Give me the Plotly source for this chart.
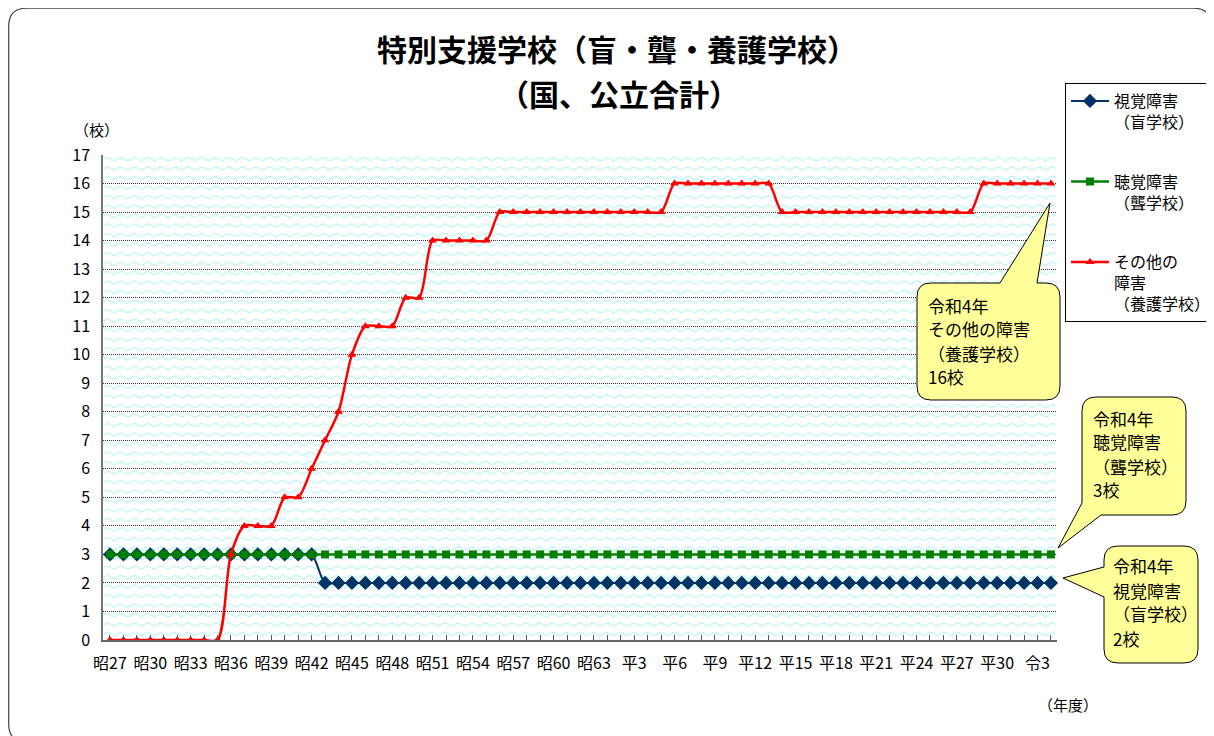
import plotly.graph_objects as go

# ---------------- data ----------------
years = list(range(1952, 2023))  # 昭27 (1952) ... 令4 (2022)

tick_years = [1952, 1955, 1958, 1961, 1964, 1967, 1970, 1973, 1976, 1979, 1982, 1985,
              1988, 1991, 1994, 1997, 2000, 2003, 2006, 2009, 2012, 2015, 2018, 2021]
tick_labels = ["昭27", "昭30", "昭33", "昭36", "昭39", "昭42", "昭45", "昭48", "昭51", "昭54",
               "昭57", "昭60", "昭63", "平3", "平6", "平9", "平12", "平15", "平18", "平21",
               "平24", "平27", "平30", "令3"]

# 視覚障害（盲学校）
visual = [3, 3, 3, 3, 3, 3, 3, 3, 3, 3, 3, 3, 3, 3, 3, 3,
          2, 2, 2, 2, 2, 2, 2, 2, 2, 2, 2, 2, 2, 2, 2, 2, 2, 2, 2, 2, 2, 2, 2, 2,
          2, 2, 2, 2, 2, 2, 2, 2, 2, 2, 2, 2, 2, 2, 2, 2, 2, 2, 2, 2, 2, 2, 2, 2,
          2, 2, 2, 2, 2, 2, 2]
# 聴覚障害（聾学校）
hearing = [3, 3, 3, 3, 3, 3, 3, 3, 3, 3, 3, 3, 3, 3, 3, 3, 3, 3, 3, 3, 3, 3, 3, 3,
           3, 3, 3, 3, 3, 3, 3, 3, 3, 3, 3, 3, 3, 3, 3, 3, 3, 3, 3, 3, 3, 3, 3, 3,
           3, 3, 3, 3, 3, 3, 3, 3, 3, 3, 3, 3, 3, 3, 3, 3, 3, 3, 3, 3, 3, 3, 3]
# その他の障害（養護学校）
other = [0, 0, 0, 0, 0, 0, 0, 0, 0, 3, 4, 4, 4, 5, 5, 6, 7, 8, 10, 11, 11, 11, 12, 12,
         14, 14, 14, 14, 14, 15, 15, 15, 15, 15, 15, 15, 15, 15, 15, 15, 15, 15,
         16, 16, 16, 16, 16, 16, 16, 16,
         15, 15, 15, 15, 15, 15, 15, 15, 15, 15, 15, 15, 15, 15, 15,
         16, 16, 16, 16, 16, 16]

series_names = ["視覚障害<br>（盲学校）", "聴覚障害<br>（聾学校）", "その他の<br>障害<br>（養護学校）"]
series_colors = ["#003366", "#008000", "#ff0000"]

# ---------------- geometry helpers ----------------
# The page body has an 8px margin, so the figure is drawn 8px in from the window corner.
OFF = 8
W, H = 1214 - OFF, 736 - OFF
# plot area in window pixels: x 103..1057, y 155..640
PL, PR, PT, PB = 103, 1057, 155, 640
ML, MT = PL - OFF, PT - OFF
MR, MB = W - (PR - OFF), H - (PB - OFF)
PW, PH = PR - PL, PB - PT
FONT = "Noto Sans CJK JP"


def px(x):  # window pixel x -> paper
    return round((x - PL) / PW, 5)


def py(y):  # window pixel y -> paper
    return round((PB - y) / PH, 5)


def path_from(cmds):
    out = []
    for c in cmds:
        op = c[0]
        pts = c[1:]
        out.append(op + " ".join(f"{px(a)},{py(b)}" for a, b in pts))
    return " ".join(out) + " Z"


def wave_path():
    parts = []
    w, a = 13.5, 1.5
    y = 159.0
    while y < 637:
        x = 104.0
        s = f"M{px(x)},{py(y)} Q{px(x + w / 4)},{py(y - 2 * a)} {px(x + w / 2)},{py(y)}"
        x += w / 2
        while x + w / 2 <= 1056:
            x += w / 2
            s += f" T{px(x)},{py(y)}"
        parts.append(s)
        y += 9.5
    return " ".join(parts)


fig = go.Figure()

markers = [dict(symbol="diamond", size=11), dict(symbol="square", size=8), dict(symbol="triangle-up", size=8)]
widths = [2, 2.5, 2.5]
for vals, name, col, mk, lw, grp in zip([visual, hearing, other], series_names, series_colors,
                                        markers, widths, ["a", "b", "c"]):
    fig.add_trace(go.Scatter(
        x=years, y=vals, name=name, mode="lines+markers",
        line=dict(color=col, width=lw, shape="spline", smoothing=0.8),
        marker=dict(color=col, line=dict(width=0), **mk),
        cliponaxis=False, legendgroup=grp,
    ))

shapes = []
# wave background pattern
shapes.append(dict(type="path", xref="paper", yref="paper", path=wave_path(),
                   line=dict(color="#c2f7f7", width=1.3), layer="below"))
# outer rounded frame
r = 18
x0, y0, x1, y1 = 8.7, 8.2, 1211.5, 742
frame = [("M", (x0 + r, y0)), ("L", (x1 - r, y0)), ("Q", (x1, y0), (x1, y0 + r)),
         ("L", (x1, y1 - r)), ("Q", (x1, y1), (x1 - r, y1)), ("L", (x0 + r, y1)),
         ("Q", (x0, y1), (x0, y1 - r)), ("L", (x0, y0 + r)), ("Q", (x0, y0), (x0 + r, y0))]
shapes.append(dict(type="path", xref="paper", yref="paper", path=path_from(frame),
                   line=dict(color="#444444", width=1.2), fillcolor="rgba(0,0,0,0)", layer="below"))

# speech bubbles
rb = 14
b1 = [("M", (917 + rb, 283)), ("L", (1000, 283)), ("L", (1050, 203)), ("L", (1037, 283)),
      ("L", (1060 - rb, 283)), ("Q", (1060, 283), (1060, 283 + rb)), ("L", (1060, 400 - rb)),
      ("Q", (1060, 400), (1060 - rb, 400)), ("L", (917 + rb, 400)), ("Q", (917, 400), (917, 400 - rb)),
      ("L", (917, 283 + rb)), ("Q", (917, 283), (917 + rb, 283))]
b2 = [("M", (1082 + rb, 397)), ("L", (1186 - rb, 397)), ("Q", (1186, 397), (1186, 397 + rb)),
      ("L", (1186, 515 - rb)), ("Q", (1186, 515), (1186 - rb, 515)), ("L", (1101, 515)),
      ("L", (1058, 548)), ("L", (1082, 503)), ("L", (1082, 397 + rb)), ("Q", (1082, 397), (1082 + rb, 397))]
b3 = [("M", (1104 + rb, 546)), ("L", (1198 - rb, 546)), ("Q", (1198, 546), (1198, 546 + rb)),
      ("L", (1198, 663 - rb)), ("Q", (1198, 663), (1198 - rb, 663)), ("L", (1104 + rb, 663)),
      ("Q", (1104, 663), (1104, 663 - rb)), ("L", (1104, 597)), ("L", (1063, 578)), ("L", (1104, 567)),
      ("L", (1104, 546 + rb)), ("Q", (1104, 546), (1104 + rb, 546))]
for b in (b1, b2, b3):
    shapes.append(dict(type="path", xref="paper", yref="paper", path=path_from(b),
                       line=dict(color="#000000", width=1), fillcolor="#ffff99", layer="above"))


def bubble_text(text, x, y_first):
    # one annotation per line so the line pitch matches the reference (about 24px)
    out = []
    for i, line in enumerate(text):
        out.append(dict(text=line, x=px(x), y=py(y_first + 24 * i), xref="paper", yref="paper",
                        showarrow=False, xanchor="left", yanchor="middle", align="left",
                        font=dict(size=17, color="black", family=FONT)))
    return out


annotations = [
    dict(text="<b>（国、公立合計）</b>", x=px(619), y=py(93), xref="paper", yref="paper",
         showarrow=False, xanchor="center", yanchor="middle", font=dict(size=30, color="black", family=FONT)),
    dict(text="（校）", x=px(97), y=py(130), xref="paper", yref="paper", showarrow=False,
         xanchor="center", yanchor="middle", font=dict(size=15, color="black", family=FONT)),
    dict(text="（年度）", x=px(1068), y=py(705), xref="paper", yref="paper", showarrow=False,
         xanchor="center", yanchor="middle", font=dict(size=15, color="black", family=FONT)),
]
annotations += bubble_text(["令和4年", "その他の障害", "（養護学校）", "16校"], 926, 305)
annotations += bubble_text(["令和4年", "聴覚障害", "（聾学校）", "3校"], 1091, 418)
annotations += bubble_text(["令和4年", "視覚障害", "（盲学校）", "2校"], 1111, 566)

fig.update_layout(
    width=W, height=H,
    margin=dict(l=ML, r=MR, t=MT, b=MB, autoexpand=False),
    paper_bgcolor="white", plot_bgcolor="white",
    font=dict(family=FONT, color="black"),
    title=dict(text="<b>特別支援学校（盲・聾・養護学校）</b>", x=(617 - OFF) / W, y=1 - (50 - OFF) / H,
               xanchor="center", yanchor="middle", xref="container", yref="container",
               font=dict(size=30, color="black", family=FONT)),
    xaxis=dict(range=[1951.48, 2022.45], tickmode="array", tickvals=tick_years, ticktext=tick_labels,
               ticks="inside", ticklen=5, tickcolor="#555555", tickwidth=1,
               minor=dict(tickmode="linear", tick0=1952, dtick=1, ticks="inside", ticklen=5,
                          tickcolor="#555555", tickwidth=1, showgrid=False),
               showline=True, linecolor="#666666", linewidth=1.5, showgrid=False, zeroline=False,
               tickfont=dict(size=16, color="black", family=FONT), ticklabelstandoff=8,
               automargin=False),
    yaxis=dict(range=[0, 17], tickmode="linear", tick0=0, dtick=1, ticks="",
               showline=True, linecolor="#777777", linewidth=1.5,
               showgrid=True, gridcolor="#333333", gridwidth=1, griddash="1px,1px", zeroline=False,
               tickfont=dict(size=16, color="black", family=FONT), ticklabelstandoff=8,
               automargin=False),
    legend=dict(x=px(1065), y=py(83), xanchor="left", yanchor="top", bgcolor="white",
                bordercolor="#000000", borderwidth=1, font=dict(size=16, color="black", family=FONT),
                valign="top", tracegroupgap=36, itemwidth=38, traceorder="grouped"),
    shapes=shapes,
    annotations=annotations,
)

fig.write_html("out.html")
